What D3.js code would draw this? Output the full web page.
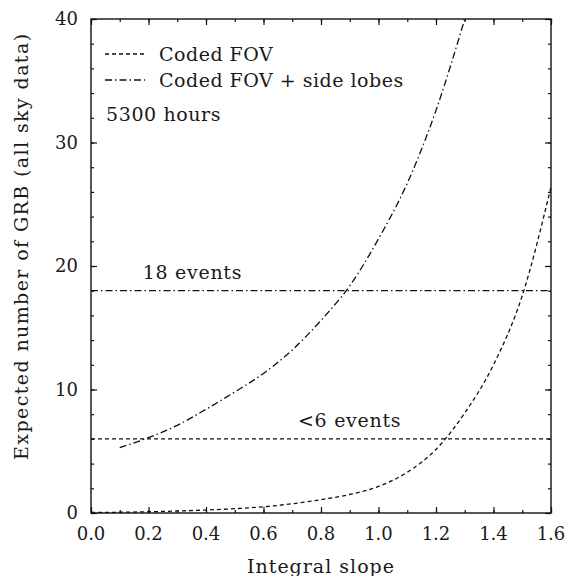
<!DOCTYPE html>
<html>
<head>
<meta charset="utf-8">
<script src="https://cdn.jsdelivr.net/npm/d3@7"></script>
<style>
  body { margin: 0; background: #fff; }
  text { font-family: "DejaVu Serif", serif; fill: #1a1a1a; }
</style>
</head>
<body>
<svg id="chart"></svg>
<script>
/* data */
const slopes = [0.0, 0.1, 0.2, 0.3, 0.4, 0.5, 0.6, 0.7, 0.8, 0.9, 1.0, 1.1, 1.2, 1.3, 1.4, 1.5, 1.6];
const codedFov = [0.04, 0.06, 0.1, 0.16, 0.24, 0.35, 0.5, 0.75, 1.08, 1.5, 2.15, 3.3, 5.15, 8.1, 12.0, 17.6, 26.4];
const lobeSlopes = [0.1, 0.2, 0.3, 0.4, 0.5, 0.6, 0.7, 0.8, 0.9, 1.0, 1.1, 1.2, 1.3];
const codedFovLobes = [5.3, 6.1, 7.1, 8.4, 9.8, 11.3, 13.2, 15.6, 18.4, 22.2, 26.7, 32.6, 40.0];
const levelLabels = ["18 events", "<6 events"];
const levelValues = [18, 6];
const legendLabels = ["Coded FOV", "Coded FOV + side lobes"];
const xTicks = [0.0, 0.2, 0.4, 0.6, 0.8, 1.0, 1.2, 1.4, 1.6];
const yTicks = [0, 10, 20, 30, 40];

const DASH = "4,3";
const DASHDOT = "7,3,1.5,3";

/* set the dimensions and margins of the graph */
const margin = { top: 19, right: 14, bottom: 63, left: 91 },
  width = 565 - margin.left - margin.right,
  height = 576 - margin.top - margin.bottom;

const svg = d3.select("#chart")
  .attr("width", 565)
  .attr("height", 576)
  .append("g")
  .attr("transform", `translate(${margin.left}, ${margin.top})`);

const x = d3.scaleLinear().domain([0, 1.6]).range([0, width]);
const y = d3.scaleLinear().domain([0, 40]).range([height, 0]);

svg.append("clipPath").attr("id", "clip")
  .append("rect").attr("width", width).attr("height", height);

/* inward ticks on all four sides */
const xMinor = d3.range(0, 1.61, 0.1);
const yMinor = d3.range(0, 40.1, 2);
const tickStyle = (g) => {
  g.select(".domain").remove();
  g.selectAll("line").attr("stroke", "#111").attr("stroke-width", 1.2);
};

svg.append("g")
  .attr("transform", `translate(0, ${height})`)
  .call(d3.axisTop(x).tickValues(xMinor).tickSize(3).tickFormat(""))
  .call(tickStyle);
svg.append("g")
  .attr("transform", `translate(0, ${height})`)
  .call(d3.axisTop(x).tickValues(xTicks).tickSize(6).tickFormat(""))
  .call(tickStyle);
svg.append("g")
  .call(d3.axisBottom(x).tickValues(xMinor).tickSize(3).tickFormat(""))
  .call(tickStyle);
svg.append("g")
  .call(d3.axisBottom(x).tickValues(xTicks).tickSize(6).tickFormat(""))
  .call(tickStyle);
svg.append("g")
  .call(d3.axisRight(y).tickValues(yMinor).tickSize(3).tickFormat(""))
  .call(tickStyle);
svg.append("g")
  .call(d3.axisRight(y).tickValues(yTicks).tickSize(6).tickFormat(""))
  .call(tickStyle);
svg.append("g")
  .attr("transform", `translate(${width}, 0)`)
  .call(d3.axisLeft(y).tickValues(yMinor).tickSize(3).tickFormat(""))
  .call(tickStyle);
svg.append("g")
  .attr("transform", `translate(${width}, 0)`)
  .call(d3.axisLeft(y).tickValues(yTicks).tickSize(6).tickFormat(""))
  .call(tickStyle);

/* frame */
svg.append("rect")
  .attr("width", width).attr("height", height)
  .attr("fill", "none").attr("stroke", "#111").attr("stroke-width", 1.4);

/* tick labels */
svg.selectAll(".xlab").data(xTicks).enter().append("text")
  .attr("x", (d) => x(d)).attr("y", height + 27)
  .attr("text-anchor", "middle").style("font-size", "18px")
  .text((d) => d3.format(".1f")(d));

svg.selectAll(".ylab").data(yTicks).enter().append("text")
  .attr("x", -13).attr("y", (d) => y(d)).attr("dy", "0.36em")
  .attr("text-anchor", "end").style("font-size", "18px")
  .text((d) => d);

/* axis titles */
svg.append("text")
  .attr("x", width / 2).attr("y", height + 60)
  .attr("text-anchor", "middle").style("font-size", "19px").style("letter-spacing", "1px")
  .text("Integral slope");

svg.append("text")
  .attr("transform", `translate(${-63}, ${y(21.6)}) rotate(-90)`)
  .attr("text-anchor", "middle").style("font-size", "19px").style("letter-spacing", "1.4px")
  .text("Expected number of GRB (all sky data)");

/* curves */
const plot = svg.append("g").attr("clip-path", "url(#clip)");
const line = d3.line()
  .x((d) => x(d[0]))
  .y((d) => y(d[1]))
  .curve(d3.curveMonotoneX);

plot.append("path")
  .datum(slopes.map((s, i) => [s, codedFov[i]]))
  .attr("fill", "none").attr("stroke", "#111").attr("stroke-width", 1.3)
  .attr("stroke-dasharray", DASH)
  .attr("d", line);

plot.append("path")
  .datum(lobeSlopes.map((s, i) => [s, codedFovLobes[i]]))
  .attr("fill", "none").attr("stroke", "#111").attr("stroke-width", 1.3)
  .attr("stroke-dasharray", DASHDOT)
  .attr("d", line);

/* threshold levels */
const levelDash = [DASHDOT, DASH];
const levelTextX = [0.18, 0.72];
levelValues.forEach((v, i) => {
  plot.append("line")
    .attr("x1", x(0)).attr("x2", x(1.6))
    .attr("y1", y(v)).attr("y2", y(v))
    .attr("stroke", "#111").attr("stroke-width", 1.3)
    .attr("stroke-dasharray", levelDash[i]);
  svg.append("text")
    .attr("x", x(levelTextX[i])).attr("y", y(v) - 12)
    .style("font-size", "19px").style("letter-spacing", "0.7px")
    .text(levelLabels[i]);
});

/* legend */
const legendDash = [DASH, DASHDOT];
legendLabels.forEach((label, i) => {
  const ly = 35 + i * 26;
  svg.append("line")
    .attr("x1", 14).attr("x2", 54)
    .attr("y1", ly).attr("y2", ly)
    .attr("stroke", "#111").attr("stroke-width", 1.3)
    .attr("stroke-dasharray", legendDash[i]);
  svg.append("text")
    .attr("x", 68).attr("y", ly + 7)
    .style("font-size", "19px").style("letter-spacing", "0.5px")
    .text(label);
});

svg.append("text")
  .attr("x", 15).attr("y", 102)
  .style("font-size", "19px").style("letter-spacing", "0.6px")
  .text("5300 hours");
</script>
</body>
</html>
